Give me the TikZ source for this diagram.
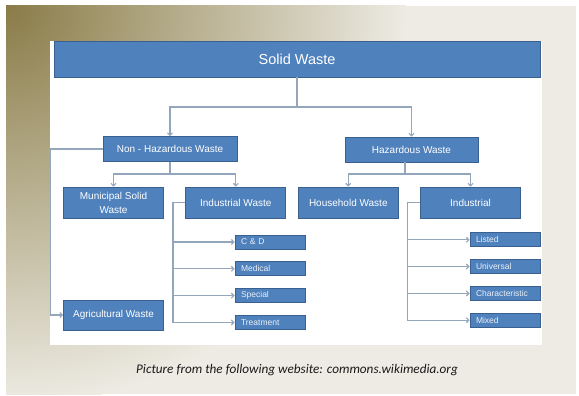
\documentclass[tikz,border=0pt]{standalone}
\usepackage{fontspec}
\setmainfont{Liberation Sans}
\newfontfamily\capfont{Carlito}
\usetikzlibrary{arrows.meta, positioning}
\definecolor{boxblue}{HTML}{4F81BD}
\definecolor{boxline}{HTML}{3A6090}
\definecolor{linkgrey}{HTML}{94A6BC}
\definecolor{slidebg}{HTML}{EDEBE3}
\definecolor{slideolive}{HTML}{8A7C48}

\begin{document}
\begin{tikzpicture}[x=1pt, y=-1pt,
  box/.style={draw=boxline, fill=boxblue, text=white, line width=0.8pt,
              inner sep=0pt, align=center, font=\fontsize{10}{14}\selectfont,
              minimum width=100pt, minimum height=31pt},
  midbox/.style={box, minimum width=134pt, minimum height=25pt},
  leaf/.style={box, text=white!88!boxblue, minimum width=70pt, minimum height=14pt,
               text width=58pt, inner xsep=6pt, align=left,
               font=\fontsize{8.5}{10}\selectfont},
  link/.style={draw=linkgrey, line width=1.1pt},
  >={Straight Barb[length=2.5pt, width=5pt]}
]
  % slide background
  \useasboundingbox (0,0) rectangle (579,396);
  \fill[white] (0,0) rectangle (579,396);
  \begin{scope}
    \clip (6,6) rectangle (576,394);
    \fill[slidebg] (6,6) rectangle (576,394);
    \shade[inner color=slideolive, outer color=slidebg] (6,6) circle (400);
  \end{scope}
  \fill[white] (50,41) rectangle (542,345);

  \node[box, minimum width=486pt, minimum height=36pt,
        font=\fontsize{14.5}{17}\selectfont] (solid) at (297,59) {Solid Waste};
  \node[midbox] (nonhaz) at (170,149) {Non - Hazardous Waste};
  \node[midbox, minimum width=133pt] (haz) at (411.5,149.5) {Hazardous Waste};

  \node[box] (muni)  at (113.5,202.5) {Municipal Solid\\Waste};
  \node[box] (indw)  at (235.8,202.5) {Industrial Waste};
  \node[box] (house) at (348.3,202.5) {Household Waste};
  \node[box] (indh)  at (470.5,202.5) {Industrial};
  \node[box, minimum height=30pt] (agri) at (113.5,315) {Agricultural Waste};

  \node[leaf] (cd)    at (270,242) {C \& D};
  \node[leaf, below=12pt of cd]   (med)   {Medical};
  \node[leaf, below=12pt of med]  (spec)  {Special};
  \node[leaf, below=12pt of spec] (treat) {Treatment};

  \node[leaf] (list)  at (505,239.8) {Listed};
  \node[leaf, below=12pt of list] (univ)  {Universal};
  \node[leaf, below=12pt of univ] (charc) {Characteristic};
  \node[leaf, below=12pt of charc] (mixed) {Mixed};

  \coordinate (top)  at (297,107);
  \coordinate (nsplit) at (170,174);
  \coordinate (hsplit) at (405,174);
  \coordinate (abus) at (50.5,149);
  \coordinate (ibus) at (173,202.5);
  \coordinate (hbus) at (407.5,202.5);

  \draw[link, ->] (solid.south) -- (top) -| (nonhaz.north);
  \draw[link, ->] (top) -| (haz.north);
  \draw[link, ->] (nonhaz.south) -- (nsplit) -| (muni.north);
  \draw[link, ->] (nsplit) -| (indw.north);
  \draw[link] (hsplit |- haz.south) -- (hsplit);
  \draw[link, ->] (hsplit) -| (house.north);
  \draw[link, ->] (hsplit) -| (indh.north);
  \draw[link, ->] (nonhaz.west) -- (abus) |- (agri.west);
  \foreach \n in {cd, med, spec, treat}
    \draw[link, ->] (indw.west) -- (ibus) |- (\n.west);
  \foreach \n in {list, univ, charc, mixed}
    \draw[link, ->] (indh.west) -- (hbus) |- (\n.west);

  \node[font=\capfont\itshape\fontsize{13.2}{15}\selectfont, text=black!90] (cap)
    at (297,370) {Picture from the following website: commons.wikimedia.org};
\end{tikzpicture}
\end{document}
